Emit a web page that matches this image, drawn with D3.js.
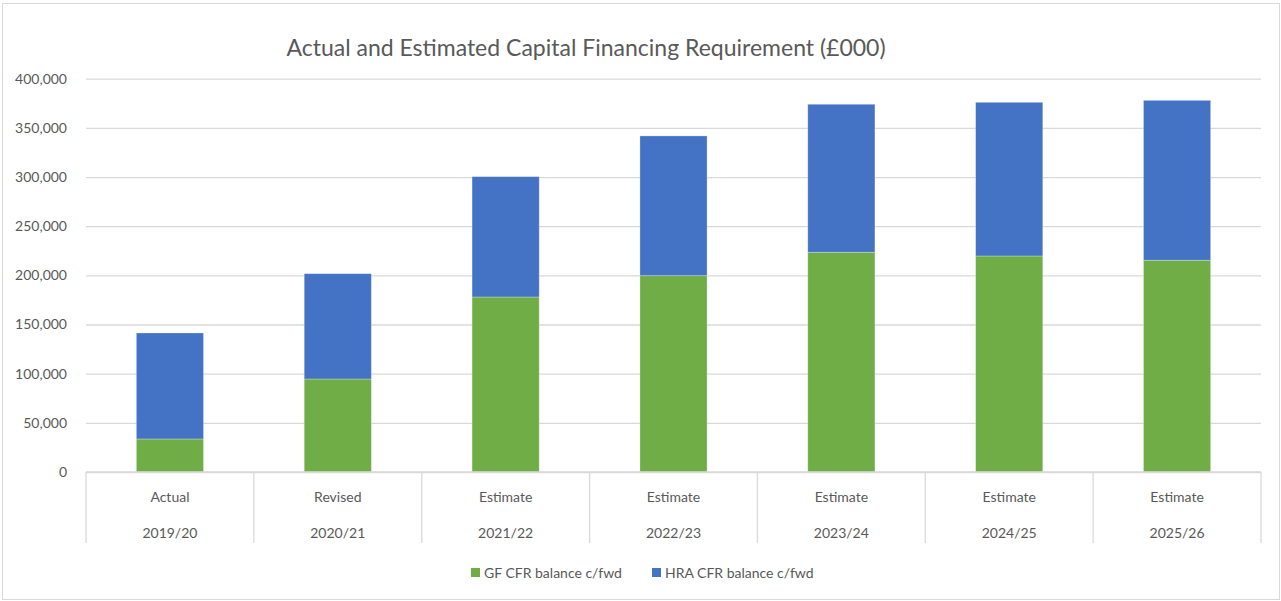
<!DOCTYPE html>
<html>
<head>
<meta charset="utf-8">
<script src="https://d3js.org/d3.v7.min.js"></script>
<style>
  body { margin: 0; background: #fff; }
  text { font-family: Lato, "Open Sans", sans-serif; fill: #595959; }
</style>
</head>
<body>
<svg width="1281" height="601"></svg>
<script>
// chart data (£000)
var years = ["2019/20", "2020/21", "2021/22", "2022/23", "2023/24", "2024/25", "2025/26"];
var stages = ["Actual", "Revised", "Estimate", "Estimate", "Estimate", "Estimate", "Estimate"];
var gfValues = [33600, 94600, 178000, 199700, 223500, 219700, 215400];
var hraValues = [107800, 107100, 122400, 142100, 150500, 156300, 162600];
var seriesNames = ["GF CFR balance c/fwd", "HRA CFR balance c/fwd"];
var colors = ["#70ad47", "#4472c4"];
var yTicks = [0, 50000, 100000, 150000, 200000, 250000, 300000, 350000, 400000];

var svg = d3.select("svg");
var plotLeft = 86, plotRight = 1261, plotTop = 78.7, plotBottom = 472;

// outer border
svg.append("rect")
    .attr("x", 2.5).attr("y", 3.5)
    .attr("width", 1277).attr("height", 596)
    .attr("fill", "#fff").attr("stroke", "#d9d9d9");

var x = d3.scaleBand()
    .domain(years)
    .range([plotLeft, plotRight])
    .paddingInner(0.6)
    .paddingOuter(0.3);

var band = d3.scaleBand().domain(years).range([plotLeft, plotRight]);

var y = d3.scaleLinear()
    .domain([0, 400000])
    .range([plotBottom, plotTop]);

// gridlines + y labels
var yAxis = svg.append("g")
    .attr("transform", "translate(" + plotLeft + ",0)")
    .call(d3.axisLeft(y).tickValues(yTicks).tickSize(-(plotRight - plotLeft))
        .tickPadding(19).tickFormat(d3.format(",")));
yAxis.select(".domain").remove();
yAxis.selectAll(".tick line").attr("stroke", "#d9d9d9").attr("stroke-width", 1.3);
yAxis.selectAll(".tick text").attr("font-size", 14).style("fill", "#595959")
    .style("font-family", "Lato, 'Open Sans', sans-serif");

// stacked bars
var rows = years.map(function (yr, i) { return { year: yr, gf: gfValues[i], hra: hraValues[i] }; });
var stack = d3.stack().keys(["gf", "hra"])(rows);

svg.append("g").selectAll("g")
    .data(stack)
    .join("g")
    .attr("fill", function (d, i) { return colors[i]; })
    .selectAll("rect")
    .data(function (d) { return d; })
    .join("rect")
    .attr("x", function (d) { return x(d.data.year); })
    .attr("width", x.bandwidth())
    .attr("y", function (d) { return y(d[1]); })
    .attr("height", function (d) { return y(d[0]) - y(d[1]); })
    .attr("stroke", "rgba(255,255,255,0.35)")
    .attr("stroke-width", 0.8);

// category axis with multi-level labels
var catAxis = svg.append("g");
catAxis.append("line")
    .attr("x1", plotLeft).attr("x2", plotRight)
    .attr("y1", plotBottom).attr("y2", plotBottom)
    .attr("stroke", "#d9d9d9").attr("stroke-width", 1.3);

var bounds = years.map(function (d) { return band(d); }).concat([plotRight]);
catAxis.selectAll(".sep")
    .data(bounds)
    .join("line")
    .attr("class", "sep")
    .attr("x1", function (d) { return d; }).attr("x2", function (d) { return d; })
    .attr("y1", plotBottom).attr("y2", 543)
    .attr("stroke", "#d9d9d9").attr("stroke-width", 1.3);

catAxis.selectAll(".stage")
    .data(years)
    .join("text")
    .attr("class", "stage")
    .attr("x", function (d) { return band(d) + band.bandwidth() / 2; })
    .attr("y", 502)
    .attr("text-anchor", "middle")
    .attr("font-size", 14)
    .text(function (d, i) { return stages[i]; });

catAxis.selectAll(".year")
    .data(years)
    .join("text")
    .attr("class", "year")
    .attr("x", function (d) { return band(d) + band.bandwidth() / 2; })
    .attr("y", 538)
    .attr("text-anchor", "middle")
    .attr("font-size", 14)
    .text(function (d) { return d; });

// title
svg.append("text")
    .attr("x", 586).attr("y", 56)
    .attr("text-anchor", "middle")
    .attr("font-size", 23)
    .text("Actual and Estimated Capital Financing Requirement (£000)");

// legend
var legendX = [471, 652];
var legend = svg.append("g").selectAll("g")
    .data(seriesNames)
    .join("g")
    .attr("transform", function (d, i) { return "translate(" + legendX[i] + ",573)"; });
legend.append("rect")
    .attr("x", 0).attr("y", -5)
    .attr("width", 9).attr("height", 9)
    .attr("fill", function (d, i) { return colors[i]; });
legend.append("text")
    .attr("x", 13).attr("y", 5)
    .attr("font-size", 14)
    .text(function (d) { return d; });
</script>
</body>
</html>
